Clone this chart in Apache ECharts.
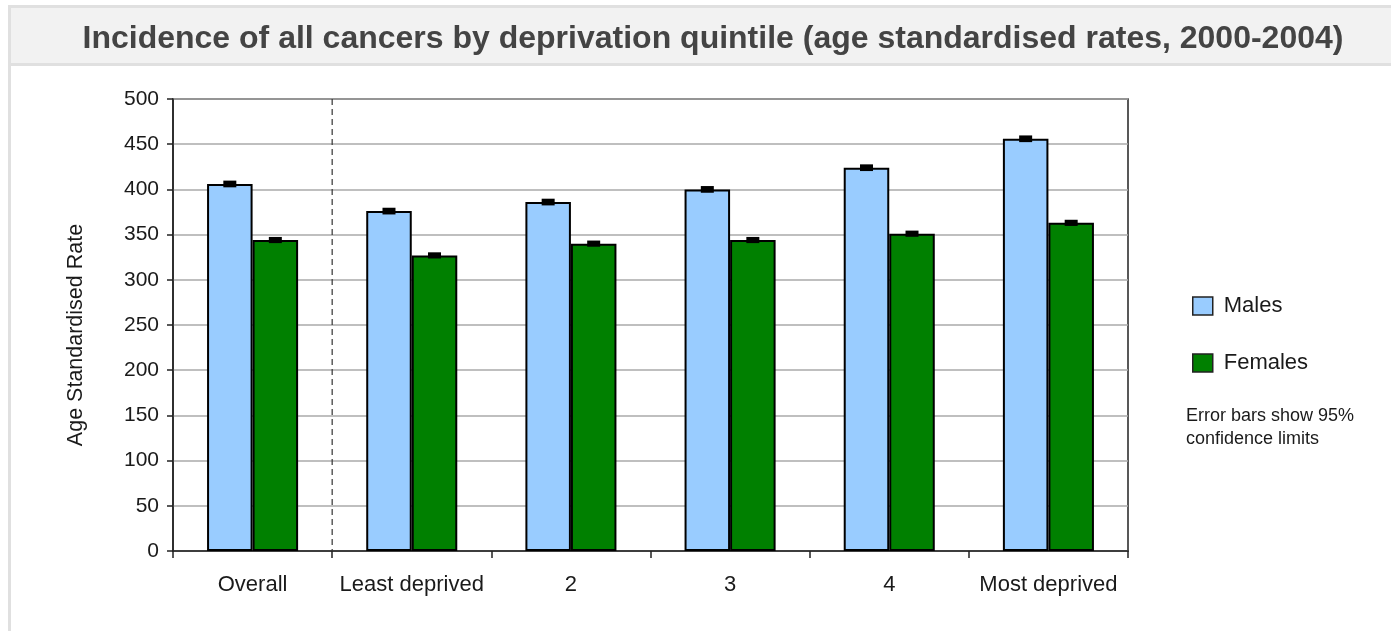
<!DOCTYPE html>
<html>
<head>
<meta charset="utf-8">
<title>Incidence of all cancers by deprivation quintile</title>
<script src="https://cdn.jsdelivr.net/npm/echarts@6/dist/echarts.min.js"></script>
<style>
  html, body { margin: 0; padding: 0; background: #fff; overflow: hidden; }
  #frame { position: absolute; left: 8px; top: 5px; width: 1400px; height: 640px; border: 3px solid #e0e0e0; }
  #bar { position: absolute; left: 11px; top: 8px; width: 1390px; height: 55px; background: #f2f2f2; border-bottom: 3px solid #e0e0e0; }
  #chart { position: absolute; left: 0; top: 0; width: 1391px; height: 631px; }
</style>
</head>
<body>
<div id="frame"></div>
<div id="bar"></div>
<div id="chart"></div>
<script>
// chart values
var categories = ["Overall", "Least deprived", "2", "3", "4", "Most deprived"];
var males = [406, 376, 386, 400, 424, 456];
var malesLow = [404.5, 374.5, 384.5, 398.5, 422.5, 454.5];
var malesHigh = [407.5, 377.5, 387.5, 401.5, 425.5, 457.5];
var females = [344, 327, 340, 344, 351, 363];
var femalesLow = [342.8, 325.8, 338.8, 342.8, 349.8, 361.8];
var femalesHigh = [345.2, 328.2, 341.2, 345.2, 352.2, 364.2];
var yTicks = [0, 500, 50]; // min, max, step

var BAR_SHARE = 0.286; // bar width as part of one category band
var FONT = "Liberation Sans, Arial, sans-serif";

function errRows(lo, hi) {
  return lo.map(function (v, i) { return [i, v, hi[i]]; });
}

// black caps on top of bars, shifted to the centre of each bar
function errRenderer(side) {
  return function (params, api) {
    var band = api.size([1, 0])[0];
    var cx = api.coord([api.value(0), 0])[0] + side * band * BAR_SHARE / 2;
    var top = api.coord([api.value(0), api.value(2)])[1];
    var bot = api.coord([api.value(0), api.value(1)])[1];
    return {
      type: "rect",
      shape: { x: cx - 6.5, y: top - 2, width: 13, height: bot - top + 4 },
      style: { fill: "#000" }
    };
  };
}

var chart = echarts.init(document.getElementById("chart"));

chart.setOption({
  animation: false,
  backgroundColor: "transparent",
  title: {
    text: "Incidence of all cancers by deprivation quintile (age standardised rates, 2000-2004)",
    left: 708,
    top: 18,
    textAlign: "center",
    textStyle: { fontFamily: FONT, fontSize: 32, fontWeight: "bold", color: "#444" }
  },
  legend: {
    data: ["Males", "Females"],
    orient: "vertical",
    left: 1187,
    top: 290,
    itemWidth: 20,
    itemHeight: 18,
    itemGap: 35,
    icon: "rect",
    itemStyle: { borderWidth: 1.5, borderColor: "#222" },
    textStyle: { fontFamily: FONT, fontSize: 22, color: "#1a1a1a", padding: [0, 0, 0, 6] }
  },
  graphic: [{
    type: "text",
    left: 1186,
    top: 405,
    style: {
      text: "Error bars show 95%\nconfidence limits",
      font: "18px " + FONT,
      lineHeight: 23,
      fill: "#1a1a1a"
    }
  }],
  grid: {
    left: 173,
    top: 99,
    width: 955,
    height: 452,
    show: true,
    borderColor: "#222",
    borderWidth: 1.5,
    backgroundColor: "transparent"
  },
  xAxis: {
    type: "category",
    data: categories,
    axisLine: { lineStyle: { color: "#222", width: 1.5 } },
    axisTick: { show: true, interval: 0, length: 7, lineStyle: { color: "#222", width: 1.5 } },
    axisLabel: { interval: 0, margin: 23, fontFamily: FONT, fontSize: 22, color: "#1a1a1a" }
  },
  yAxis: {
    type: "value",
    min: yTicks[0],
    max: yTicks[1],
    interval: yTicks[2],
    name: "Age Standardised Rate",
    nameLocation: "middle",
    nameGap: 86,
    nameTextStyle: { fontFamily: FONT, fontSize: 21.5, color: "#1a1a1a", padding: [0, 20, 0, 0] },
    axisLine: { show: true, lineStyle: { color: "#222", width: 1.5 } },
    axisTick: { show: true, length: 6, lineStyle: { color: "#222", width: 1.5 } },
    axisLabel: { margin: 14, fontFamily: FONT, fontSize: 21, color: "#1a1a1a" },
    splitLine: { lineStyle: { color: "#aaa", width: 1.5 } }
  },
  series: [
    {
      name: "Males",
      type: "bar",
      data: males,
      barWidth: (BAR_SHARE * 100) + "%",
      barGap: "0%",
      itemStyle: { color: "#99ccff", borderColor: "#000", borderWidth: 2 }
    },
    {
      name: "Females",
      type: "bar",
      data: females,
      barWidth: (BAR_SHARE * 100) + "%",
      itemStyle: { color: "#008000", borderColor: "#000", borderWidth: 2 }
    },
    {
      name: "Males CI",
      type: "custom",
      data: errRows(malesLow, malesHigh),
      encode: { x: 0, y: [1, 2] },
      renderItem: errRenderer(-1),
      z: 5
    },
    {
      name: "Females CI",
      type: "custom",
      data: errRows(femalesLow, femalesHigh),
      encode: { x: 0, y: [1, 2] },
      renderItem: errRenderer(1),
      z: 5
    },
    {
      // dashed divider between Overall and the quintiles
      name: "divider",
      type: "custom",
      data: [[0, yTicks[0], yTicks[1]]],
      encode: { x: 0, y: [1, 2] },
      renderItem: function (params, api) {
        var band = api.size([1, 0])[0];
        var x = api.coord([api.value(0), 0])[0] + band / 2;
        var top = api.coord([0, api.value(2)])[1];
        var bot = api.coord([0, api.value(1)])[1];
        return {
          type: "line",
          shape: { x1: x, y1: top, x2: x, y2: bot },
          style: { stroke: "#333", lineWidth: 1.2, lineDash: [6, 4] }
        };
      },
      z: 4
    }
  ]
});
</script>
</body>
</html>
